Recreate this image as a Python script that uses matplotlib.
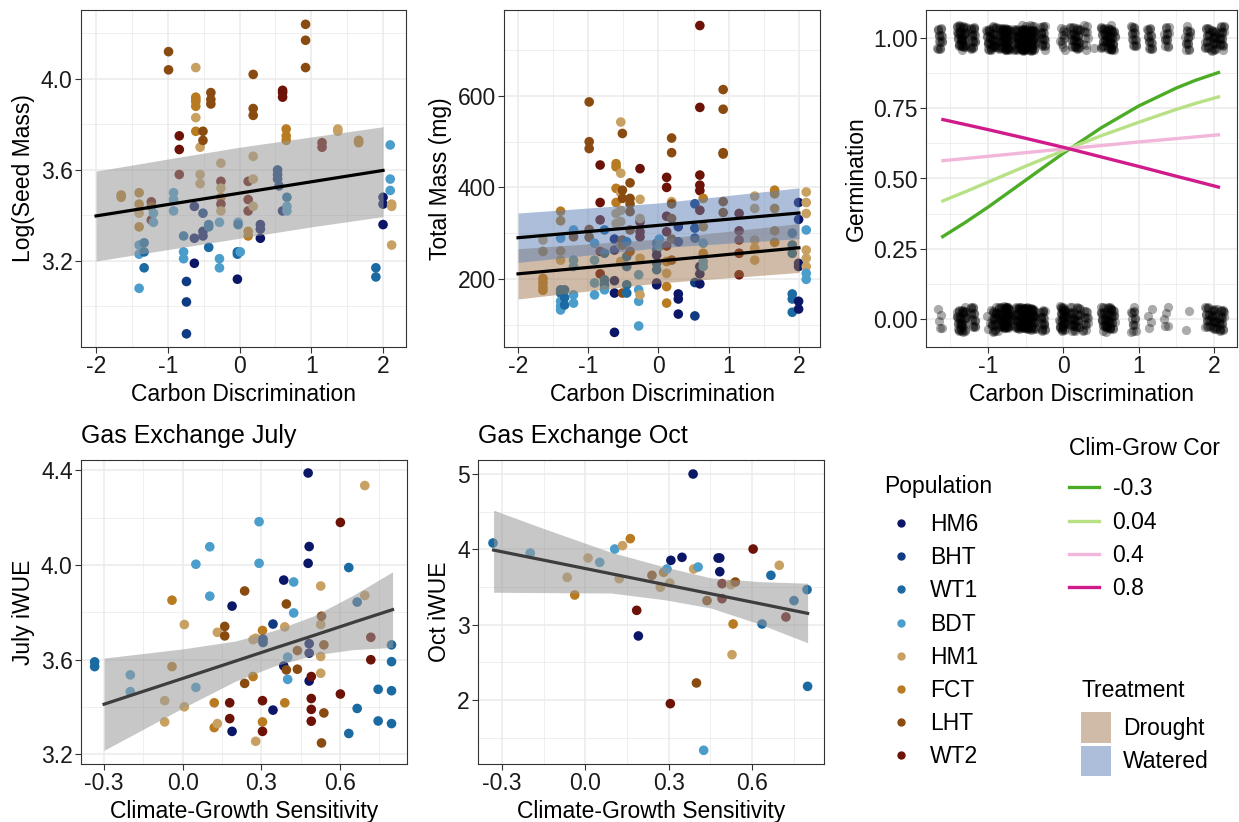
import numpy as np
import matplotlib
matplotlib.use("Agg")
import matplotlib.pyplot as plt
from matplotlib.lines import Line2D
from matplotlib.patches import Patch

plt.rcParams['font.family'] = ['Liberation Sans', 'DejaVu Sans']

# population palette
pops = ['HM6', 'BHT', 'WT1', 'BDT', 'HM1', 'FCT', 'LHT', 'WT2']
pop_colors = ['#0b1766', '#0e3b82', '#1b6aa2', '#4b9dcb', '#c8a162', '#b87b22', '#8a4b10', '#6c1207']

# ---- panel 1: seed mass vs carbon discrimination
p1_x = [-1.65, -1.65,
        -1.40, -1.40, -1.40, -1.40, -1.40, -1.40, -1.40,
        -1.33, -1.33, -1.33,
        -1.23, -1.23, -1.23, -1.20, -1.20,
        -0.99, -0.99,
        -0.92, -0.92, -0.92,
        -0.84, -0.84, -0.84,
        -0.78, -0.78, -0.78,
        -0.74, -0.74, -0.74,
        -0.63, -0.63, -0.63,
        -0.61, -0.61, -0.61, -0.61, -0.61, -0.61, -0.61,
        -0.55, -0.55, -0.55,
        -0.51, -0.51, -0.51, -0.51, -0.51,
        -0.43, -0.43, -0.43,
        -0.40, -0.40, -0.40,
        -0.28, -0.28, -0.28,
        -0.26, -0.26, -0.26, -0.26, -0.26, -0.26,
        -0.03, -0.03, -0.03, -0.02, -0.02,
        0.01,
        0.12, 0.12, 0.12, 0.12, 0.12,
        0.19, 0.19, 0.19, 0.19, 0.19, 0.19,
        0.29, 0.29, 0.29,
        0.53, 0.53, 0.53, 0.55,
        0.60, 0.60, 0.60, 0.60,
        0.65, 0.65, 0.65, 0.66, 0.66, 0.66,
        0.92, 0.92, 0.92,
        1.15, 1.15,
        1.37, 1.37,
        1.66, 1.66,
        1.90, 1.90,
        2.00, 2.00, 2.00,
        2.10, 2.10, 2.10, 2.12, 2.12, 2.12]
p1_y = [3.49, 3.48,
        3.50, 3.45, 3.41, 3.35, 3.27, 3.23, 3.08,
        3.28, 3.24, 3.17,
        3.46, 3.38, 3.44, 3.41, 3.37,
        4.12, 4.04,
        3.50, 3.47, 3.42,
        3.75, 3.69, 3.58,
        3.31, 3.24, 3.21,
        3.11, 3.02, 2.88,
        3.44, 3.30, 3.19,
        4.05, 3.92, 3.91, 3.90, 3.88, 3.83, 3.77,
        3.70, 3.58, 3.54,
        3.77, 3.73, 3.41, 3.33, 3.31,
        3.36, 3.35, 3.26,
        3.94, 3.91, 3.89,
        3.37, 3.21, 3.17,
        3.63, 3.55, 3.52, 3.48, 3.45, 3.42,
        3.12, 3.24, 3.23, 3.37, 3.36,
        3.24,
        3.33, 3.31, 3.47, 3.42, 3.55,
        4.02, 3.87, 3.84, 3.66, 3.56, 3.44,
        3.36, 3.34, 3.30,
        3.60, 3.58, 3.56, 3.53,
        3.95, 3.94, 3.92, 3.42,
        3.78, 3.75, 3.73, 3.48, 3.44, 3.42,
        4.24, 4.17, 4.05,
        3.72, 3.70,
        3.78, 3.77,
        3.73, 3.72,
        3.17, 3.13,
        3.48, 3.45, 3.36,
        3.71, 3.56, 3.51, 3.45, 3.44, 3.27]
p1_pop = ['FCT', 'FCT',
          'FCT', 'FCT', 'HM1', 'FCT', 'BDT', 'BDT', 'BDT',
          'WT1', 'WT1', 'WT1',
          'WT2', 'WT2', 'LHT', 'BDT', 'BDT',
          'LHT', 'LHT',
          'BDT', 'BDT', 'BDT',
          'WT2', 'WT2', 'WT2',
          'WT1', 'BDT', 'BDT',
          'BHT', 'BHT', 'BHT',
          'HM6', 'HM6', 'HM6',
          'HM1', 'FCT', 'FCT', 'FCT', 'FCT', 'HM1', 'FCT',
          'HM1', 'HM1', 'HM1',
          'LHT', 'LHT', 'BHT', 'HM6', 'HM6',
          'WT1', 'WT1', 'WT1',
          'LHT', 'LHT', 'LHT',
          'BDT', 'BDT', 'BDT',
          'HM1', 'WT2', 'HM1', 'FCT', 'WT2', 'HM1',
          'HM6', 'WT1', 'WT1', 'BDT', 'WT1',
          'BDT',
          'FCT', 'FCT', 'WT2', 'WT2', 'WT2',
          'LHT', 'LHT', 'LHT', 'HM1', 'HM1', 'HM1',
          'HM6', 'HM6', 'HM6',
          'BHT', 'BHT', 'BHT', 'BHT',
          'WT2', 'WT2', 'WT2', 'HM6',
          'FCT', 'FCT', 'FCT', 'WT1', 'BDT', 'BDT',
          'LHT', 'LHT', 'LHT',
          'WT2', 'WT2',
          'HM1', 'HM1',
          'FCT', 'FCT',
          'WT1', 'WT1',
          'HM6', 'HM6', 'HM6',
          'BDT', 'BDT', 'BDT', 'HM1', 'HM1', 'HM1']
p1_fit_x = [-2, -1, 0, 1, 2]
p1_fit_y = [3.398, 3.448, 3.498, 3.548, 3.598]
p1_fit_lo = [3.200, 3.250, 3.300, 3.350, 3.395]
p1_fit_hi = [3.595, 3.648, 3.700, 3.745, 3.790]

# ---- panel 2: total mass vs carbon discrimination
p2_x = [-1.645, -1.645, -1.645, -1.645, -1.645, -1.645,
        -1.394, -1.394, -1.394, -1.394, -1.394, -1.394, -1.394, -1.394, -1.394, -1.394,
        -1.337, -1.337, -1.337,
        -1.21, -1.21, -1.21, -1.21, -1.21, -1.21,
        -0.987, -0.987, -0.987, -0.987, -0.987,
        -0.911, -0.911, -0.911, -0.911,
        -0.831, -0.831, -0.831, -0.831, -0.831,
        -0.769, -0.769, -0.769, -0.769, -0.769,
        -0.627, -0.627, -0.627, -0.627, -0.627,
        -0.604, -0.604, -0.604, -0.604, -0.604, -0.604,
        -0.537, -0.537, -0.537, -0.537, -0.537, -0.537, -0.537,
        -0.514, -0.514, -0.514, -0.514, -0.514, -0.514,
        -0.452, -0.452, -0.452, -0.452, -0.452,
        -0.405, -0.405, -0.405, -0.405, -0.405, -0.405,
        -0.282, -0.282, -0.282, -0.282,
        -0.263, -0.263, -0.263, -0.263, -0.263, -0.263, -0.263, -0.263,
        -0.026, -0.026, -0.026, -0.026, -0.026, -0.026, -0.026,
        0.012, 0.012,
        0.116, 0.116, 0.116, 0.116, 0.116, 0.116, 0.116, 0.116, 0.116,
        0.187, 0.187, 0.187, 0.187, 0.187, 0.187, 0.187,
        0.282, 0.282, 0.282, 0.282, 0.282,
        0.518, 0.518, 0.518, 0.518, 0.518,
        0.589, 0.589, 0.589, 0.589, 0.589, 0.589, 0.589, 0.589, 0.589,
        0.637, 0.637, 0.637, 0.637, 0.637, 0.637,
        0.921, 0.921, 0.921, 0.921, 0.921, 0.921,
        1.148, 1.148, 1.148, 1.148, 1.148,
        1.370, 1.370, 1.370, 1.370, 1.370,
        1.654, 1.654, 1.654, 1.654, 1.654,
        1.905, 1.905, 1.905, 1.905, 1.905, 1.905,
        1.995, 1.995, 1.995, 1.995, 1.995, 1.995,
        2.104, 2.104, 2.104, 2.104, 2.104, 2.104, 2.104, 2.104, 2.104]
p2_y = [285, 260, 201, 192, 183, 175,
        348, 327, 261, 241, 289, 176, 169, 151, 140, 132,
        176, 159, 143,
        307, 241, 227, 165, 147, 292,
        587, 500, 485, 308, 291,
        278, 241, 191, 165,
        449, 367, 329, 260, 211,
        307, 256, 198, 187, 176,
        287, 263, 196, 169, 83,
        452, 445, 398, 367, 343, 321,
        543, 431, 388, 350, 325, 274, 238,
        518, 394, 376, 285, 274, 169,
        281, 249, 227, 187, 169,
        410, 376, 364, 347, 307, 260,
        209, 176, 151, 97,
        441, 325, 303, 292, 374, 332, 245, 165,
        278, 263, 234, 220, 191, 252, 187,
        287, 271,
        422, 400, 337, 303, 272, 238, 212, 183, 147,
        508, 476, 369, 364, 332, 287, 241,
        314, 281, 167, 156, 123,
        364, 311, 289, 192, 119,
        754, 575, 427, 405, 393, 350, 227, 211, 189,
        376, 314, 256, 238, 227, 278,
        614, 571, 476, 473, 369, 345,
        343, 305, 285, 256, 209,
        381, 354, 285, 267, 241,
        394, 386, 354, 305, 280,
        300, 274, 256, 167, 156, 127,
        367, 330, 234, 227, 151, 134,
        390, 367, 343, 263, 245, 227, 307, 212, 199]
p2_pop = ['HM1', 'FCT', 'FCT', 'FCT', 'FCT', 'FCT',
          'FCT', 'FCT', 'FCT', 'HM1', 'BDT', 'WT1', 'WT1', 'BDT', 'BDT', 'BDT',
          'WT1', 'WT1', 'WT1',
          'BDT', 'BDT', 'BDT', 'BDT', 'BDT', 'LHT',
          'LHT', 'LHT', 'LHT', 'LHT', 'LHT',
          'BDT', 'BDT', 'BDT', 'BDT',
          'WT2', 'WT2', 'WT2', 'WT2', 'WT2',
          'WT1', 'WT1', 'WT1', 'WT1', 'BDT',
          'HM6', 'HM6', 'HM6', 'HM6', 'HM6',
          'FCT', 'FCT', 'FCT', 'FCT', 'HM1', 'HM1',
          'HM1', 'HM1', 'HM1', 'HM1', 'HM1', 'HM1', 'HM1',
          'LHT', 'LHT', 'LHT', 'LHT', 'LHT', 'LHT',
          'WT1', 'WT1', 'WT1', 'WT1', 'WT1',
          'LHT', 'LHT', 'LHT', 'LHT', 'LHT', 'LHT',
          'BDT', 'BDT', 'BDT', 'BDT',
          'WT2', 'WT2', 'WT2', 'WT2', 'HM1', 'HM1', 'HM1', 'HM1',
          'WT1', 'WT1', 'WT1', 'WT1', 'HM6', 'HM6', 'HM6',
          'BDT', 'BDT',
          'WT2', 'WT2', 'WT2', 'WT2', 'WT2', 'FCT', 'HM1', 'FCT', 'FCT',
          'LHT', 'LHT', 'HM1', 'LHT', 'LHT', 'LHT', 'LHT',
          'HM6', 'HM6', 'HM6', 'HM6', 'HM6',
          'BHT', 'BHT', 'BHT', 'BHT', 'BHT',
          'WT2', 'WT2', 'WT2', 'WT2', 'WT2', 'WT2', 'HM6', 'HM6', 'HM6',
          'FCT', 'FCT', 'FCT', 'BDT', 'BDT', 'BDT',
          'LHT', 'LHT', 'LHT', 'LHT', 'LHT', 'LHT',
          'WT2', 'WT2', 'WT2', 'WT2', 'WT2',
          'HM1', 'HM1', 'HM1', 'HM1', 'HM1',
          'FCT', 'FCT', 'FCT', 'FCT', 'FCT',
          'WT1', 'WT1', 'WT1', 'WT1', 'WT1', 'WT1',
          'HM6', 'HM6', 'HM6', 'HM6', 'HM6', 'HM6',
          'HM1', 'HM1', 'HM1', 'HM1', 'HM1', 'HM1', 'BDT', 'BDT', 'BDT']
p2_fit_x = [-2, 0, 2]
water_fit = [290, 317, 344]
water_lo = [236, 268, 288]
water_hi = [344, 366, 399]
drought_fit = [211, 239, 268]
drought_lo = [156, 191, 214]
drought_hi = [266, 287, 321]

# ---- panel 3: germination (0/1) counts per carbon discrimination value
germ_x = [-1.64, -1.38, -1.32, -1.20, -0.99, -0.92, -0.83, -0.77, -0.74, -0.62,
          -0.54, -0.51, -0.44, -0.40, -0.27, -0.02, 0.01, 0.12, 0.19, 0.29,
          0.40, 0.53, 0.60, 0.65, 0.93, 1.15, 1.37, 1.65, 1.91, 2.00, 2.10]
germ_n1 = [16, 22, 22, 20, 20, 20, 20, 24, 24, 26,
           26, 26, 24, 24, 20, 7, 5, 16, 20, 10,
           1, 18, 20, 20, 16, 16, 14, 16, 16, 20, 20]
germ_n0 = [5, 20, 20, 16, 4, 22, 22, 24, 24, 24,
           24, 24, 22, 20, 20, 22, 20, 20, 16, 14,
           0, 20, 20, 16, 14, 4, 5, 2, 16, 20, 20]
cor_labels = ['-0.3', '0.04', '0.4', '0.8']
cor_colors = ['#4dac26', '#b8e186', '#f1b6da', '#d01c8b']
pred_x = [-1.62, -1.3, -1.0, -0.5, 0.0, 0.5, 1.0, 1.5, 1.75, 2.08]
pred_y = [[0.290, 0.344, 0.398, 0.494, 0.590, 0.680, 0.758, 0.822, 0.849, 0.879],
          [0.418, 0.453, 0.487, 0.544, 0.599, 0.652, 0.700, 0.746, 0.767, 0.792],
          [0.563, 0.571, 0.579, 0.592, 0.605, 0.617, 0.630, 0.642, 0.648, 0.656],
          [0.711, 0.692, 0.674, 0.643, 0.611, 0.577, 0.543, 0.508, 0.491, 0.468]]

# ---- panel 4: July iWUE
p4_x = [-0.336, -0.336, -0.20, -0.20, -0.069, -0.069, -0.041, -0.041, 0.006, 0.006,
        0.05, 0.05, 0.103, 0.103, 0.12, 0.12, 0.132, 0.132, 0.16, 0.16,
        0.179, 0.179, 0.188, 0.188, 0.236, 0.236, 0.268, 0.268, 0.278, 0.278,
        0.291, 0.291, 0.304, 0.304, 0.304, 0.304, 0.306, 0.306, 0.344, 0.344,
        0.385, 0.385, 0.389, 0.389, 0.395, 0.395, 0.40, 0.40, 0.423, 0.423,
        0.437, 0.437, 0.478, 0.478, 0.482, 0.482, 0.482, 0.482,
        0.49, 0.49, 0.49, 0.49, 0.526, 0.526, 0.526, 0.526,
        0.529, 0.529, 0.538, 0.538, 0.601, 0.601, 0.633, 0.633, 0.665, 0.665,
        0.694, 0.694, 0.717, 0.717, 0.745, 0.745, 0.796, 0.796, 0.796, 0.796]
p4_y = [3.590, 3.570, 3.535, 3.464, 3.426, 3.336, 3.851, 3.570, 3.748, 3.400,
        4.003, 3.482, 4.077, 3.868, 3.417, 3.312, 3.329, 3.715, 3.740, 3.700,
        3.417, 3.350, 3.826, 3.296, 3.890, 3.499, 3.684, 3.528, 3.254, 3.690,
        4.183, 4.007, 3.723, 3.336, 3.426, 3.296, 3.686, 3.672, 3.750, 3.386,
        3.936, 3.573, 3.738, 3.417, 3.835, 3.556, 3.610, 3.516, 3.928, 3.797,
        3.638, 3.559, 4.389, 4.007, 4.078, 3.667, 3.627, 3.509,
        3.528, 3.435, 3.389, 3.339, 3.911, 3.748, 3.613, 3.542,
        3.783, 3.247, 3.662, 3.374, 4.180, 3.454, 3.989, 3.287, 3.843, 3.393,
        4.336, 3.871, 3.694, 3.599, 3.474, 3.340, 3.662, 3.591, 3.468, 3.329]
p4_pop = ['WT1', 'WT1', 'BDT', 'BDT', 'HM1', 'HM1', 'FCT', 'FCT', 'HM1', 'HM1',
          'BDT', 'BDT', 'BDT', 'BDT', 'FCT', 'FCT', 'HM1', 'HM1', 'LHT', 'LHT',
          'WT2', 'WT2', 'HM6', 'HM6', 'LHT', 'LHT', 'HM1', 'FCT', 'HM1', 'HM1',
          'BDT', 'BDT', 'FCT', 'FCT', 'WT2', 'WT2', 'BHT', 'BHT', 'BHT', 'HM6',
          'HM6', 'HM6', 'HM1', 'FCT', 'LHT', 'LHT', 'BDT', 'BDT', 'BDT', 'BDT',
          'LHT', 'LHT', 'HM6', 'HM6', 'HM6', 'HM6', 'HM6', 'HM6',
          'WT2', 'WT2', 'WT2', 'WT2', 'HM1', 'HM1', 'HM1', 'HM1',
          'LHT', 'LHT', 'LHT', 'LHT', 'WT2', 'WT2', 'WT1', 'WT1', 'WT1', 'WT1',
          'HM1', 'HM1', 'WT2', 'WT2', 'WT1', 'WT1', 'WT1', 'WT1', 'WT1', 'WT1']
p4_fit_x = [-0.3, 0.0, 0.2, 0.35, 0.5, 0.65, 0.8]
p4_fit_y = [3.411, 3.520, 3.593, 3.648, 3.702, 3.757, 3.811]
p4_fit_lo = [3.216, 3.395, 3.508, 3.573, 3.619, 3.642, 3.651]
p4_fit_hi = [3.606, 3.645, 3.678, 3.723, 3.785, 3.872, 3.971]

# ---- panel 5: October iWUE
p5_x = [-0.332, -0.198, -0.065, -0.038, 0.010, 0.052, 0.106, 0.122, 0.134, 0.162,
        0.185, 0.191, 0.240, 0.270, 0.282, 0.294, 0.304, 0.306, 0.308, 0.348,
        0.388, 0.390, 0.400, 0.406, 0.426, 0.438, 0.478, 0.484, 0.484, 0.492,
        0.492, 0.524, 0.528, 0.532, 0.540, 0.604, 0.636, 0.668, 0.698, 0.722,
        0.751, 0.798, 0.800]
p5_y = [4.084, 3.951, 3.628, 3.394, 3.885, 3.827, 4.004, 3.611, 4.049, 4.142,
        3.190, 2.850, 3.655, 3.496, 3.695, 3.739, 3.553, 1.951, 3.854, 3.894,
        5.000, 3.739, 2.226, 3.765, 1.332, 3.319, 3.885, 3.885, 3.703, 3.544,
        3.345, 3.531, 2.602, 3.009, 3.566, 4.004, 3.009, 3.655, 3.788, 3.102,
        3.319, 3.465, 2.181]
p5_pop = ['WT1', 'BDT', 'HM1', 'FCT', 'HM1', 'BDT', 'BDT', 'HM1', 'HM1', 'FCT',
          'WT2', 'HM6', 'LHT', 'HM1', 'FCT', 'BDT', 'HM1', 'WT2', 'HM6', 'HM6',
          'HM6', 'HM1', 'LHT', 'BDT', 'BDT', 'LHT', 'HM6', 'HM6', 'HM6', 'WT2',
          'WT2', 'HM1', 'HM1', 'FCT', 'LHT', 'WT2', 'WT1', 'WT1', 'HM1', 'WT2',
          'WT1', 'WT1', 'WT1']
p5_fit_x = [-0.33, -0.145, 0.093, 0.287, 0.453, 0.633, 0.80]
p5_fit_y = [3.990, 3.853, 3.676, 3.532, 3.409, 3.275, 3.150]
p5_fit_lo = [3.430, 3.425, 3.420, 3.330, 3.220, 3.000, 2.760]
p5_fit_hi = [4.520, 4.270, 3.960, 3.765, 3.620, 3.570, 3.550]

treat_labels = ['Drought', 'Watered']
treat_colors = ['#a07850', '#5b7fb5']

FS = 16.5
W, H = 1239, 822
fig = plt.figure(figsize=(W / 100, H / 100), dpi=100)


def add_panel(l, t, r, b):
    return fig.add_axes([l / W, 1 - b / H, (r - l) / W, (b - t) / H])


def style(ax, xt, xm, yt, ym, xlim, ylim, xfmt, yfmt):
    ax.set_xlim(*xlim)
    ax.set_ylim(*ylim)
    ax.set_xticks(xt)
    ax.set_xticks(xm, minor=True)
    ax.set_yticks(yt)
    ax.set_yticks(ym, minor=True)
    ax.set_xticklabels([xfmt(v) for v in xt])
    ax.set_yticklabels([yfmt(v) for v in yt])
    ax.grid(which='major', color='#ebebeb', lw=1.1, zorder=0)
    ax.grid(which='minor', color='#ebebeb', lw=0.55, zorder=0)
    ax.set_axisbelow(True)
    ax.tick_params(which='major', length=4, width=0.8, color='#333333',
                   labelsize=FS, labelcolor='#1a1a1a', pad=2)
    ax.tick_params(which='minor', length=0)
    for s in ax.spines.values():
        s.set_color('#333333')
        s.set_linewidth(0.8)


def pop_scatter(ax, xs, ys, ps):
    cols = [pop_colors[pops.index(p)] for p in ps]
    ax.scatter(xs, ys, s=48, c=cols, linewidths=0, zorder=2)


fmt1 = lambda v: '%.1f' % v
fmti = lambda v: '%d' % v
fmt2 = lambda v: '%.2f' % v

# panel 1
ax1 = add_panel(81, 10, 406, 347)
pop_scatter(ax1, p1_x, p1_y, p1_pop)
ax1.fill_between(p1_fit_x, p1_fit_lo, p1_fit_hi, color='#999999', alpha=0.55, lw=0, zorder=3)
ax1.plot(p1_fit_x, p1_fit_y, color='black', lw=2.3, zorder=4)
style(ax1, [-2, -1, 0, 1, 2], [-1.5, -0.5, 0.5, 1.5], [3.2, 3.6, 4.0], [3.0, 3.4, 3.8, 4.2],
      (-2.21, 2.32), (2.822, 4.303), fmti, fmt1)
ax1.set_xlabel('Carbon Discrimination', fontsize=FS, labelpad=3)
ax1.set_ylabel('Log(Seed Mass)', fontsize=FS, labelpad=4)

# panel 2
ax2 = add_panel(504, 10, 820, 347)
pop_scatter(ax2, p2_x, p2_y, p2_pop)
ax2.fill_between(p2_fit_x, drought_lo, drought_hi, color=treat_colors[0], alpha=0.5, lw=0, zorder=3)
ax2.fill_between(p2_fit_x, water_lo, water_hi, color=treat_colors[1], alpha=0.5, lw=0, zorder=3)
ax2.plot(p2_fit_x, water_fit, color='black', lw=2.3, zorder=4)
ax2.plot(p2_fit_x, drought_fit, color='black', lw=2.3, zorder=4)
style(ax2, [-2, -1, 0, 1, 2], [-1.5, -0.5, 0.5, 1.5], [200, 400, 600], [100, 300, 500, 700],
      (-2.2, 2.3), (51, 788), fmti, fmti)
ax2.set_xlabel('Carbon Discrimination', fontsize=FS, labelpad=3)
ax2.set_ylabel('Total Mass (mg)', fontsize=FS, labelpad=4)

# panel 3 (points jittered around their 0/1 outcome)
ax3 = add_panel(926, 10, 1237, 347)
gx, gy = [], []
k = 0
for x0, n1, n0 in zip(germ_x, germ_n1, germ_n0):
    for yv, n in ((1.0, n1), (0.0, n0)):
        for i in range(n):
            k += 1
            gx.append(x0 + ((k * 0.6180339) % 1 - 0.5) * 0.07)
            gy.append(yv + ((k * 0.7548776 + 0.31) % 1 - 0.5) * 0.09)
ax3.scatter(gx, gy, s=44, color='black', alpha=0.33, linewidths=0, zorder=2)
for yv, c in zip(pred_y, cor_colors):
    ax3.plot(pred_x, yv, color=c, lw=2.4, zorder=3, solid_capstyle='butt')
style(ax3, [-1, 0, 1, 2], [-1.5, -0.5, 0.5, 1.5], [0, 0.25, 0.5, 0.75, 1.0],
      [0.125, 0.375, 0.625, 0.875], (-1.823, 2.305), (-0.0996, 1.0996), fmti, fmt2)
ax3.set_xlabel('Carbon Discrimination', fontsize=FS, labelpad=3)
ax3.set_ylabel('Germination', fontsize=FS, labelpad=4)

# panel 4
ax4 = add_panel(81, 460, 407, 764)
pop_scatter(ax4, p4_x, p4_y, p4_pop)
ax4.fill_between(p4_fit_x, p4_fit_lo, p4_fit_hi, color='#999999', alpha=0.55, lw=0, zorder=3)
ax4.plot(p4_fit_x, p4_fit_y, color='#3d3d3d', lw=2.3, zorder=4)
style(ax4, [-0.3, 0.0, 0.3, 0.6], [-0.15, 0.15, 0.45, 0.75], [3.2, 3.6, 4.0, 4.4], [3.4, 3.8, 4.2],
      (-0.388, 0.855), (3.158, 4.444), fmt1, fmt1)
ax4.set_xlabel('Climate-Growth Sensitivity', fontsize=FS, labelpad=3)
ax4.set_ylabel('July iWUE', fontsize=FS, labelpad=4)
ax4.set_title('Gas Exchange July', loc='left', fontsize=18, pad=12)

# panel 5
ax5 = add_panel(478, 460, 824, 764)
pop_scatter(ax5, p5_x, p5_y, p5_pop)
ax5.fill_between(p5_fit_x, p5_fit_lo, p5_fit_hi, color='#999999', alpha=0.55, lw=0, zorder=3)
ax5.plot(p5_fit_x, p5_fit_y, color='#3d3d3d', lw=2.3, zorder=4)
style(ax5, [-0.3, 0.0, 0.3, 0.6], [-0.15, 0.15, 0.45, 0.75], [2, 3, 4, 5], [1.5, 2.5, 3.5, 4.5],
      (-0.386, 0.859), (1.15, 5.186), fmt1, fmti)
ax5.set_xlabel('Climate-Growth Sensitivity', fontsize=FS, labelpad=3)
ax5.set_ylabel('Oct iWUE', fontsize=FS, labelpad=4)
ax5.set_title('Gas Exchange Oct', loc='left', fontsize=18, pad=12)

# legends
h_pop = [Line2D([], [], marker='o', ls='', color=c, markersize=5) for c in pop_colors]
leg = fig.legend(h_pop, pops, loc='upper left', bbox_to_anchor=(884 / W, 1 - 475 / H),
                 frameon=False, title='Population', fontsize=FS, title_fontsize=FS,
                 alignment='left', handlelength=1.5, handletextpad=0.5, labelspacing=0.44,
                 borderpad=0, borderaxespad=0)
leg._legend_box.sep = 11.0

h_cor = [Line2D([], [], color=c, lw=2.4) for c in cor_colors]
leg = fig.legend(h_cor, cor_labels, loc='upper left', bbox_to_anchor=(1069 / W, 1 - 437 / H),
                 frameon=False, title='Clim-Grow Cor', fontsize=FS, title_fontsize=FS,
                 alignment='left', handlelength=1.3, handletextpad=0.6, labelspacing=0.45,
                 borderpad=0, borderaxespad=0)
leg._legend_box.sep = 12.5

h_tr = [Patch(facecolor=c, alpha=0.5, lw=0) for c in treat_colors]
leg = fig.legend(h_tr, treat_labels, loc='upper left', bbox_to_anchor=(1081 / W, 1 - 679 / H),
                 frameon=False, title='Treatment', fontsize=FS, title_fontsize=FS,
                 alignment='left', handlelength=1.3, handleheight=1.66, handletextpad=0.55,
                 labelspacing=0.12, borderpad=0, borderaxespad=0)
leg._legend_box.sep = 7.5

fig.savefig('out.png', dpi=100)
